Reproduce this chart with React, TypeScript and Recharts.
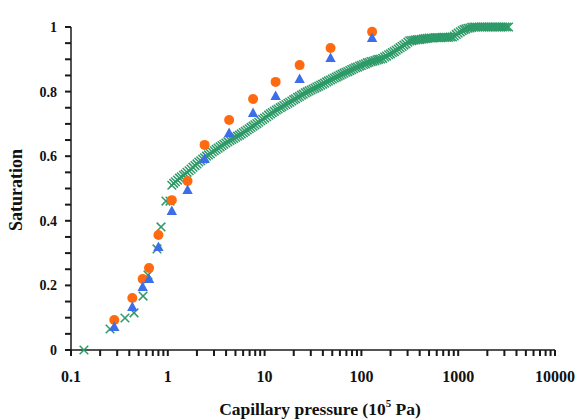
import { ScatterChart, Scatter, XAxis, YAxis, Label } from "recharts"

// lab measurements (circles / triangles share the same pressures)
const pressureLab = [0.28, 0.43, 0.55, 0.64, 0.8, 1.1, 1.6, 2.4, 4.3, 7.6, 13, 23, 48, 129]
const satCircle = [0.093, 0.161, 0.22, 0.254, 0.356, 0.464, 0.523, 0.635, 0.712, 0.777, 0.83, 0.882, 0.935, 0.985]
const satTriangle = [0.071, 0.133, 0.195, 0.22, 0.319, 0.43, 0.495, 0.591, 0.672, 0.734, 0.786, 0.839, 0.904, 0.966]

// dense curve (crosses), read along the band
const pressureCurve = [
  0.136, 0.253, 0.361, 0.448, 0.555, 0.624, 0.773, 0.851, 0.957, 1.054,
  1.1, 1.15, 1.2, 1.26, 1.32, 1.38, 1.45, 1.51, 1.58, 1.66,
  1.74, 1.82, 1.91, 2.0, 2.09, 2.19, 2.29, 2.4, 2.51, 2.63,
  2.75, 2.88, 3.02, 3.16, 3.31, 3.47, 3.63, 3.8, 3.98, 4.17,
  4.37, 4.57, 4.79, 5.01, 5.25, 5.5, 5.75, 6.03, 6.31, 6.61,
  6.92, 7.24, 7.59, 7.94, 8.32, 8.71, 9.12, 9.55, 10, 10.5,
  11, 11.5, 12, 12.6, 13.2, 13.8, 14.5, 15.1, 15.8, 16.6,
  17.4, 18.2, 19.1, 20, 20.9, 21.9, 22.9, 24, 25.1, 26.3,
  27.5, 28.8, 30.2, 31.6, 33.1, 34.7, 36.3, 38, 39.8, 41.7,
  43.7, 45.7, 47.9, 50.1, 52.5, 55, 57.5, 60.3, 63.1, 66.1,
  69.2, 72.4, 75.9, 79.4, 83.2, 87.1, 91.2, 95.5, 100, 105,
  110, 115, 120, 126, 132, 138, 145, 151, 158, 166,
  174, 182, 191, 200, 209, 219, 229, 240, 251, 263,
  275, 288, 302, 316, 331, 347, 363, 380, 398, 417,
  437, 457, 479, 501, 525, 550, 575, 603, 631, 661,
  692, 724, 759, 794, 832, 871, 912, 955, 1000, 1050,
  1100, 1150, 1200, 1260, 1320, 1380, 1450, 1510, 1580, 1660,
  1740, 1820, 1910, 2000, 2090, 2190, 2290, 2400, 2510, 2630,
  2750, 2880, 3020, 3160, 3310,
]
const satCurve = [
  0, 0.065, 0.099, 0.115, 0.167, 0.232, 0.313, 0.381, 0.461, 0.461,
  0.51, 0.516, 0.521, 0.526, 0.532, 0.536, 0.541, 0.545, 0.55, 0.555,
  0.56, 0.566, 0.571, 0.576, 0.582, 0.586, 0.591, 0.595, 0.6, 0.604,
  0.608, 0.613, 0.617, 0.621, 0.625, 0.629, 0.633, 0.637, 0.641, 0.645,
  0.649, 0.652, 0.655, 0.659, 0.662, 0.665, 0.669, 0.673, 0.677, 0.681,
  0.685, 0.689, 0.693, 0.697, 0.701, 0.705, 0.71, 0.714, 0.718, 0.722,
  0.727, 0.731, 0.735, 0.739, 0.743, 0.746, 0.75, 0.753, 0.757, 0.76,
  0.764, 0.767, 0.771, 0.775, 0.778, 0.782, 0.785, 0.789, 0.792, 0.796,
  0.799, 0.802, 0.805, 0.808, 0.811, 0.814, 0.817, 0.82, 0.823, 0.826,
  0.83, 0.833, 0.836, 0.839, 0.842, 0.845, 0.848, 0.851, 0.854, 0.857,
  0.86, 0.862, 0.865, 0.868, 0.871, 0.874, 0.876, 0.879, 0.881, 0.884,
  0.886, 0.889, 0.891, 0.893, 0.894, 0.896, 0.898, 0.9, 0.901, 0.903,
  0.907, 0.91, 0.914, 0.917, 0.921, 0.924, 0.928, 0.932, 0.936, 0.94,
  0.944, 0.948, 0.953, 0.957, 0.958, 0.959, 0.96, 0.961, 0.961, 0.962,
  0.963, 0.964, 0.965, 0.966, 0.966, 0.966, 0.967, 0.967, 0.967, 0.967,
  0.968, 0.968, 0.968, 0.968, 0.969, 0.969, 0.972, 0.977, 0.981, 0.985,
  0.989, 0.992, 0.994, 0.996, 0.997, 0.999, 1, 1, 1, 1,
  1, 1, 1, 1, 1, 1, 1, 1, 1, 1,
  1, 1, 1, 1, 1,
]

const xTicks = [
  0.1, 0.2, 0.3, 0.4, 0.5, 0.6, 0.7, 0.8, 0.9,
  1, 2, 3, 4, 5, 6, 7, 8, 9,
  10, 20, 30, 40, 50, 60, 70, 80, 90,
  100, 200, 300, 400, 500, 600, 700, 800, 900,
  1000, 2000, 3000, 4000, 5000, 6000, 7000, 8000, 9000,
  10000,
]
const xLabelled = [0.1, 1, 10, 100, 1000, 10000]
const yTicks = [0, 0.05, 0.1, 0.15, 0.2, 0.25, 0.3, 0.35, 0.4, 0.45, 0.5, 0.55, 0.6, 0.65, 0.7, 0.75, 0.8, 0.85, 0.9, 0.95, 1]
const yLabelled = [0, 0.2, 0.4, 0.6, 0.8, 1]

const circleRows = pressureLab.map((x, i) => ({ x, y: satCircle[i] }))
const triangleRows = pressureLab.map((x, i) => ({ x, y: satTriangle[i] }))
const curveRows = pressureCurve.map((x, i) => ({ x, y: satCurve[i] }))

const ORANGE = "#ff6a10"
const BLUE = "#3b6ee8"
const GREEN = "#2e9a68"
const AXIS = "#1a1a1a"
const FONT = "'Liberation Serif', 'Times New Roman', serif"

const TICK = 6
const X_GAP = 15
const Y_GAP = 8

type ShapeProps = { cx?: number; cy?: number }
type TickProps = { x?: number; y?: number; payload?: { value: number } }

function Dot({ cx = 0, cy = 0 }: ShapeProps) {
  return <circle cx={cx} cy={cy} r={5} fill={ORANGE} />
}

function Tri({ cx = 0, cy = 0 }: ShapeProps) {
  return (
    <polygon
      points={`${cx},${cy - 5.5} ${cx - 5.2},${cy + 4} ${cx + 5.2},${cy + 4}`}
      fill={BLUE}
    />
  )
}

function Cross({ cx = 0, cy = 0 }: ShapeProps) {
  const s = 4.3
  return (
    <g stroke={GREEN} strokeWidth={1.5}>
      <line x1={cx - s} y1={cy - s} x2={cx + s} y2={cy + s} />
      <line x1={cx - s} y1={cy + s} x2={cx + s} y2={cy - s} />
    </g>
  )
}

// recharts hands the label anchor (axis + tick + gap); the tick mark is drawn back from it
function XTick({ x = 0, y = 0, payload }: TickProps) {
  const v = payload ? payload.value : 0
  const axisY = y - X_GAP - TICK
  return (
    <g>
      <rect x={x - 1} y={axisY} width={2} height={TICK} fill={AXIS} />
      {xLabelled.includes(v) && (
        <text
          x={x}
          y={y}
          dy="0.71em"
          textAnchor="middle"
          fontSize={16}
          fontWeight="bold"
          fontFamily={FONT}
          fill="#111"
        >
          {String(v)}
        </text>
      )}
    </g>
  )
}

function YTick({ x = 0, y = 0, payload }: TickProps) {
  const v = payload ? payload.value : 0
  const axisX = x + Y_GAP + TICK
  return (
    <g>
      <rect x={axisX - TICK} y={y - 1} width={TICK} height={2} fill={AXIS} />
      {yLabelled.includes(v) && (
        <text
          x={x}
          y={y}
          dy="0.36em"
          textAnchor="end"
          fontSize={14}
          fontWeight="bold"
          fontFamily={FONT}
          fill="#111"
        >
          {String(v)}
        </text>
      )}
    </g>
  )
}

export default function App() {
  return (
    <div style={{ position: "absolute", left: 0, top: 0, width: 581, height: 420, background: "#fff" }}>
      <ScatterChart
        width={581}
        height={420}
        margin={{ top: 27, right: 26, bottom: 0, left: 0 }}
      >
        <XAxis
          type="number"
          dataKey="x"
          scale="log"
          domain={[0.1, 10000]}
          allowDataOverflow
          ticks={xTicks}
          interval={0}
          height={70}
          tickSize={TICK}
          tickMargin={X_GAP}
          axisLine={{ stroke: AXIS, strokeWidth: 1.5 }}
          tickLine={false}
          tick={<XTick />}
        >
          <Label
            content={() => (
              <text
                x={320}
                y={415}
                textAnchor="middle"
                fontSize={17.5}
                fontWeight="bold"
                fontFamily={FONT}
                fill="#111"
              >
                Capillary pressure (10
                <tspan dy={-8} fontSize={11}>5</tspan>
                <tspan dy={8}> Pa)</tspan>
              </text>
            )}
          />
        </XAxis>
        <YAxis
          type="number"
          dataKey="y"
          domain={[0, 1]}
          ticks={yTicks}
          interval={0}
          width={71}
          tickSize={TICK}
          tickMargin={Y_GAP}
          axisLine={{ stroke: AXIS, strokeWidth: 1.5 }}
          tickLine={false}
          tick={<YTick />}
        >
          <Label
            content={() => (
              <text
                x={0}
                y={0}
                transform="translate(22,190) rotate(-90)"
                textAnchor="middle"
                fontSize={18}
                fontWeight="bold"
                fontFamily={FONT}
                fill="#111"
              >
                Saturation
              </text>
            )}
          />
        </YAxis>
        <Scatter data={curveRows} shape={<Cross />} isAnimationActive={false} />
        <Scatter data={circleRows} shape={<Dot />} isAnimationActive={false} />
        <Scatter data={triangleRows} shape={<Tri />} isAnimationActive={false} />
      </ScatterChart>
    </div>
  )
}
